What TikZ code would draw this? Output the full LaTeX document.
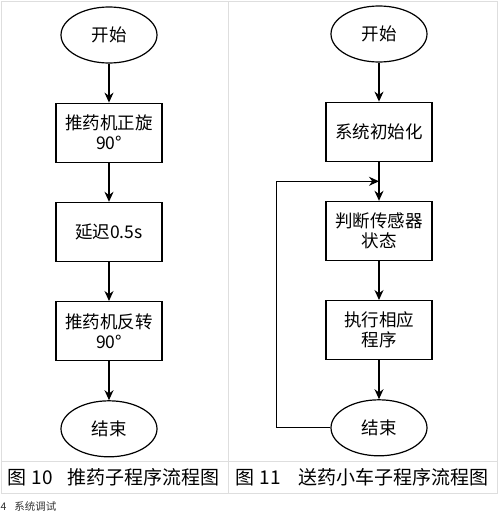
\documentclass[tikz,border=0pt]{standalone}
\usepackage{fontspec}
\setmainfont{Noto Sans CJK SC}
\usetikzlibrary{shapes.geometric, arrows.meta, positioning}
\definecolor{rulegray}{HTML}{DEDEDE}
\tikzstyle{process} = [rectangle, minimum width=106pt, minimum height=59pt, text centered, draw=black, align=center, font=\fontsize{17.5}{20}\selectfont]
\tikzstyle{startstop} = [ellipse, minimum width=96pt, minimum height=56pt, inner sep=0pt, text centered, draw=black, font=\fontsize{17.5}{20}\selectfont]
\tikzstyle{arrow} = [line width=1.2pt, -{Stealth[length=10pt, width=9pt]}]
\tikzstyle{tablerule} = [draw=rulegray, line width=0.8pt]
\tikzstyle{figcaption} = [anchor=west, inner sep=0pt, font=\fontsize{19}{22}\selectfont]
\begin{document}
\begin{tikzpicture}[x=1pt, y=-1pt, line width=1.2pt, node distance=39pt]
    \useasboundingbox (0,0) rectangle (499,517);
    \draw [tablerule] (1,1) rectangle (497,493);
    \draw [tablerule] (1,461) -- (497,461);
    \draw [tablerule] (228,1) -- (228,493);
    \node (PushStart) [startstop] at (109,35) {开始};
    \node (RotateForward) [process, below = of PushStart] {推药机正旋\\90°};
    \node (Delay) [process, below = of RotateForward] {延迟0.5s};
    \node (RotateBack) [process, below = of Delay] {推药机反转\\90°};
    \node (PushEnd) [startstop, below = of RotateBack] {结束};
    \node (CarStart) [startstop] at (379,34) {开始};
    \node (Init) [process, below = of CarStart] {系统初始化};
    \node (Judge) [process, below = of Init] {判断传感器\\状态};
    \node (Execute) [process, below = of Judge] {执行相应\\程序};
    \node (CarEnd) [startstop, below = of Execute] {结束};
    \node (PushCaption) [figcaption] at (7,477) {图\hspace{5pt}10\hspace{15pt}推药子程序流程图};
    \node (CarCaption) [figcaption] at (235,477) {图\hspace{5pt}11\hspace{18pt}送药小车子程序流程图};
    \node (SectionHead) [anchor=west, inner sep=0pt, font=\fontsize{10.5}{12}\selectfont, text=black!80] at (0,506) {4\hspace{8pt}系统调试};
    \draw [arrow] (PushStart) -- (RotateForward);
    \draw [arrow] (RotateForward) -- (Delay);
    \draw [arrow] (Delay) -- (RotateBack);
    \draw [arrow] (RotateBack) -- (PushEnd);
    \draw [arrow] (CarStart) -- (Init);
    \draw [arrow] (Init) -- coordinate (LoopIn) (Judge);
    \draw [arrow] (Judge) -- (Execute);
    \draw [arrow] (Execute) -- (CarEnd);
    \draw [arrow] (CarEnd.west) -- ++(-54,0) |- (LoopIn);
\end{tikzpicture}
\end{document}
